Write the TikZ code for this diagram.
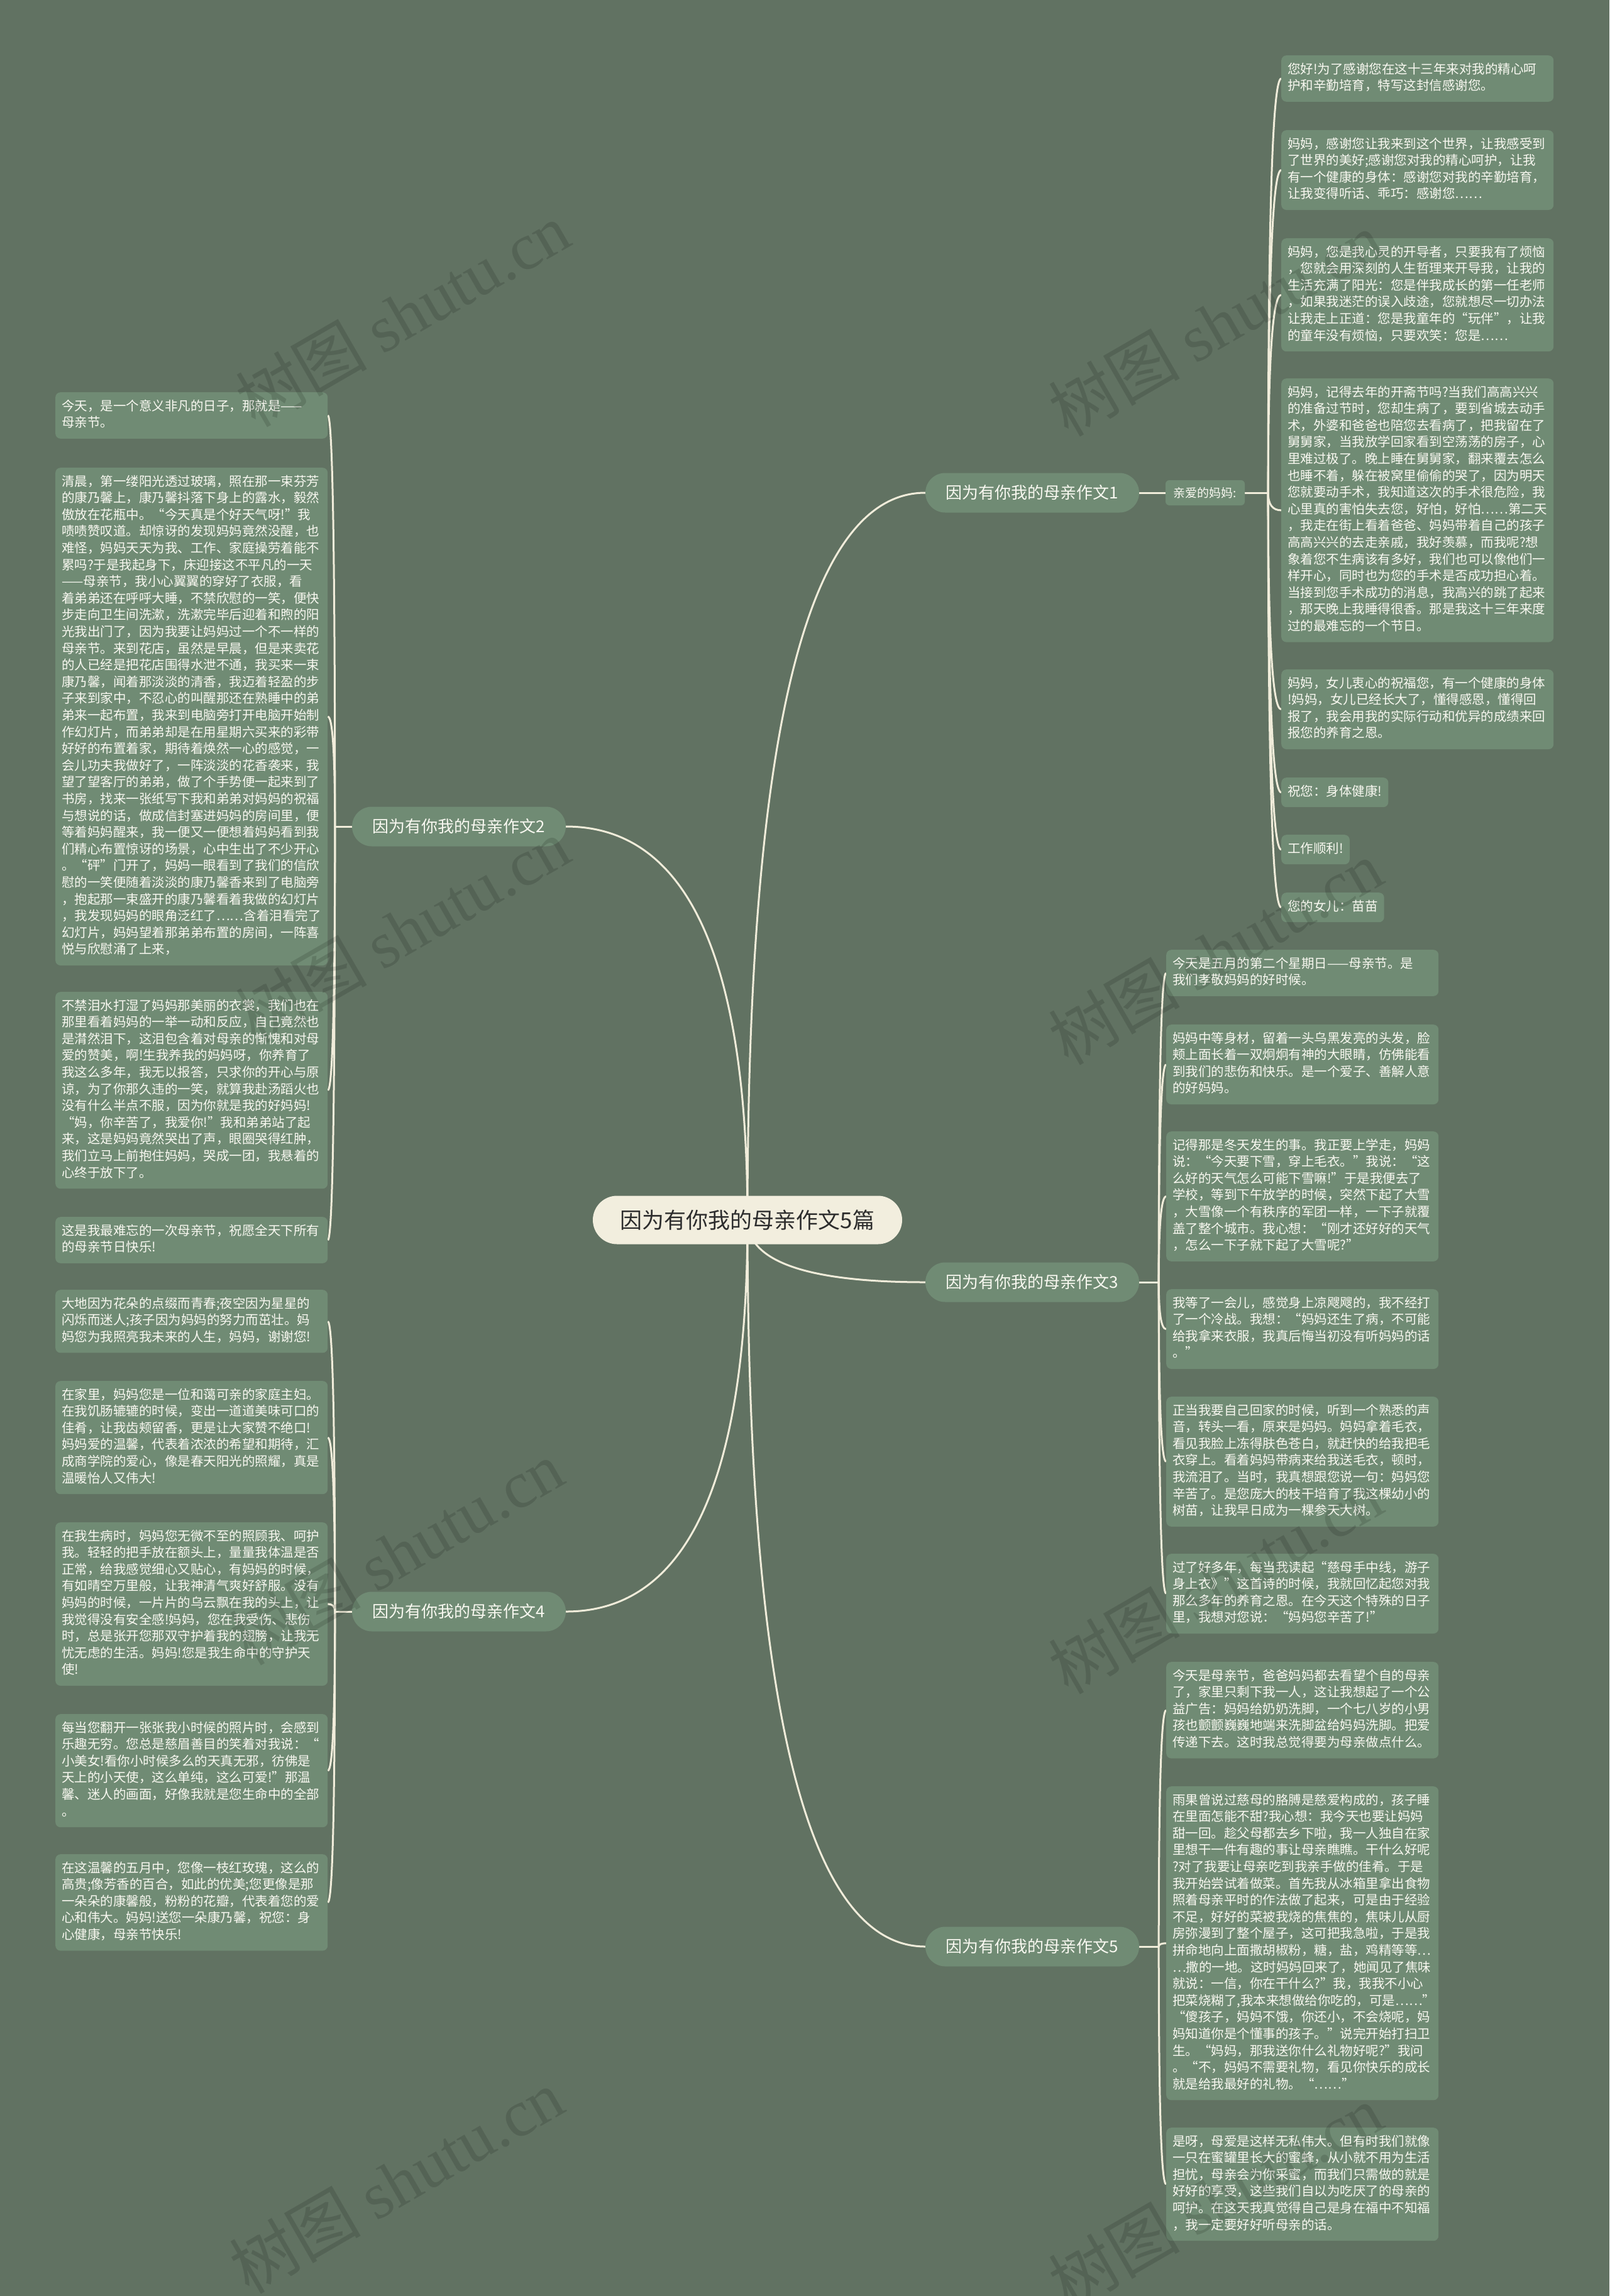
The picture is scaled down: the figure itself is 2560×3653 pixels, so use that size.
\documentclass[tikz,border=0pt]{standalone}
\usepackage{fontspec}
\setmainfont{Noto Sans CJK SC}
\newfontfamily\wmserif{Liberation Serif}
\usetikzlibrary{calc,backgrounds}
\definecolor{bgc}{RGB}{97,114,98}
\definecolor{leafc}{RGB}{112,139,116}
\definecolor{leaft}{RGB}{248,248,240}
\definecolor{creamc}{RGB}{242,238,222}
\definecolor{linec}{RGB}{240,236,218}
\definecolor{darkt}{RGB}{45,45,45}
\newcommand\leaffont{\fontsize{20.5pt}{26.6pt}\selectfont}
\newcommand\linkR[2]{\draw[conn] (#1) .. controls ($(#1)!0.6667!(#1 |- #2.west)$) and ($(#2.west)!0.6667!(#1 |- #2.west)$) .. (#2.west);}
\newcommand\linkL[2]{\draw[conn] (#1) .. controls ($(#1)!0.6667!(#1 |- #2.east)$) and ($(#2.east)!0.6667!(#1 |- #2.east)$) .. (#2.east);}
\tikzset{
  leaf/.style={fill=leafc, rounded corners=8pt, text=leaft, align=left, text width=413pt,
    inner xsep=10pt, inner ysep=10.2pt, anchor=north west, font=\leaffont},
  sleaf/.style={fill=leafc, rounded corners=8pt, text=leaft, align=left,
    inner xsep=10pt, inner ysep=10.2pt, anchor=north west, font=\leaffont},
  branch/.style={fill=leafc, rounded corners=31.5pt, text=leaft, minimum width=340pt,
    minimum height=63pt, inner sep=0pt, font=\fontsize{26pt}{32pt}\selectfont},
  centre/.style={fill=creamc, rounded corners=38.5pt, text=darkt, minimum width=492pt,
    minimum height=77pt, inner sep=0pt, font=\fontsize{35pt}{42pt}\selectfont},
  small/.style={fill=leafc, rounded corners=6pt, text=leaft, minimum width=126pt,
    minimum height=40pt, inner sep=0pt, font=\fontsize{19pt}{24pt}\selectfont},
  conn/.style={draw=linec, line width=3pt},
  wm/.style={text=black, opacity=0.13, font=\fontsize{105pt}{110pt}\selectfont, rotate=30}
}
\begin{document}
\begin{tikzpicture}[x=1pt,y=-1pt]
\useasboundingbox (0,0) rectangle (2560,3653);

\node[centre] (c) at (1189,1941) {因为有你我的母亲作文5篇};
\node[branch] (b1) at (1642,784) {因为有你我的母亲作文1};
\node[branch] (b2) at (730,1315) {因为有你我的母亲作文2};
\node[branch] (b3) at (1642,2040) {因为有你我的母亲作文3};
\node[branch] (b4) at (730,2564) {因为有你我的母亲作文4};
\node[branch] (b5) at (1642,3097) {因为有你我的母亲作文5};
\node[small] (q) at (1917,784) {亲爱的妈妈:};

% sector 1
\node[leaf] (A1) at (2038,88) {\strut 您好!为了感谢您在这十三年来对我的精心呵\\护和辛勤培育，特写这封信感谢您。\strut};
\node[leaf] (A2) at (2038,207) {\strut 妈妈，感谢您让我来到这个世界，让我感受到\\了世界的美好;感谢您对我的精心呵护，让我\\有一个健康的身体：感谢您对我的辛勤培育，\\让我变得听话、乖巧：感谢您……\strut};
\node[leaf] (A3) at (2038,379) {\strut 妈妈，您是我心灵的开导者，只要我有了烦恼\\，您就会用深刻的人生哲理来开导我，让我的\\生活充满了阳光：您是伴我成长的第一任老师\\，如果我迷茫的误入歧途，您就想尽一切办法\\让我走上正道：您是我童年的“玩伴”，让我\\的童年没有烦恼，只要欢笑：您是……\strut};
\node[leaf] (A4) at (2038,602) {\strut 妈妈，记得去年的开斋节吗?当我们高高兴兴\\的准备过节时，您却生病了，要到省城去动手\\术，外婆和爸爸也陪您去看病了，把我留在了\\舅舅家，当我放学回家看到空荡荡的房子，心\\里难过极了。晚上睡在舅舅家，翻来覆去怎么\\也睡不着，躲在被窝里偷偷的哭了，因为明天\\您就要动手术，我知道这次的手术很危险，我\\心里真的害怕失去您，好怕，好怕……第二天\\，我走在街上看着爸爸、妈妈带着自己的孩子\\高高兴兴的去走亲戚，我好羡慕，而我呢?想\\象着您不生病该有多好，我们也可以像他们一\\样开心，同时也为您的手术是否成功担心着。\\当接到您手术成功的消息，我高兴的跳了起来\\，那天晚上我睡得很香。那是我这十三年来度\\过的最难忘的一个节日。\strut};
\node[leaf] (A5) at (2038,1065) {\strut 妈妈，女儿衷心的祝福您，有一个健康的身体\\!妈妈，女儿已经长大了，懂得感恩，懂得回\\报了，我会用我的实际行动和优异的成绩来回\\报您的养育之恩。\strut};
\node[sleaf] (A6) at (2038,1237) {\strut 祝您：身体健康!\strut};
\node[sleaf] (A7) at (2038,1328) {\strut 工作顺利!\strut};
\node[sleaf] (A8) at (2038,1420) {\strut 您的女儿：苗苗\strut};

% sector 2
\node[leaf] (B1) at (88,624) {\strut 今天，是一个意义非凡的日子，那就是——\\母亲节。\strut};
\node[leaf] (B2) at (88,744) {\strut 清晨，第一缕阳光透过玻璃，照在那一束芬芳\\的康乃馨上，康乃馨抖落下身上的露水，毅然\\傲放在花瓶中。“今天真是个好天气呀!”我\\啧啧赞叹道。却惊讶的发现妈妈竟然没醒，也\\难怪，妈妈天天为我、工作、家庭操劳着能不\\累吗?于是我起身下，床迎接这不平凡的一天\\——母亲节，我小心翼翼的穿好了衣服，看\\着弟弟还在呼呼大睡，不禁欣慰的一笑，便快\\步走向卫生间洗漱，洗漱完毕后迎着和煦的阳\\光我出门了，因为我要让妈妈过一个不一样的\\母亲节。来到花店，虽然是早晨，但是来卖花\\的人已经是把花店围得水泄不通，我买来一束\\康乃馨，闻着那淡淡的清香，我迈着轻盈的步\\子来到家中，不忍心的叫醒那还在熟睡中的弟\\弟来一起布置，我来到电脑旁打开电脑开始制\\作幻灯片，而弟弟却是在用星期六买来的彩带\\好好的布置着家，期待着焕然一心的感觉，一\\会儿功夫我做好了，一阵淡淡的花香袭来，我\\望了望客厅的弟弟，做了个手势便一起来到了\\书房，找来一张纸写下我和弟弟对妈妈的祝福\\与想说的话，做成信封塞进妈妈的房间里，便\\等着妈妈醒来，我一便又一便想着妈妈看到我\\们精心布置惊讶的场景，心中生出了不少开心\\。“砰”门开了，妈妈一眼看到了我们的信欣\\慰的一笑便随着淡淡的康乃馨香来到了电脑旁\\，抱起那一束盛开的康乃馨看着我做的幻灯片\\，我发现妈妈的眼角泛红了……含着泪看完了\\幻灯片，妈妈望着那弟弟布置的房间，一阵喜\\悦与欣慰涌了上来，\strut};
\node[leaf] (B3) at (88,1578) {\strut 不禁泪水打湿了妈妈那美丽的衣裳，我们也在\\那里看着妈妈的一举一动和反应，自己竟然也\\是潸然泪下，这泪包含着对母亲的惭愧和对母\\爱的赞美，啊!生我养我的妈妈呀，你养育了\\我这么多年，我无以报答，只求你的开心与原\\谅，为了你那久违的一笑，就算我赴汤蹈火也\\没有什么半点不服，因为你就是我的好妈妈!\\“妈，你辛苦了，我爱你!”我和弟弟站了起\\来，这是妈妈竟然哭出了声，眼圈哭得红肿，\\我们立马上前抱住妈妈，哭成一团，我悬着的\\心终于放下了。\strut};
\node[leaf] (B4) at (88,1936) {\strut 这是我最难忘的一次母亲节，祝愿全天下所有\\的母亲节日快乐!\strut};

% sector 3
\node[leaf] (D1) at (1855,1511) {\strut 今天是五月的第二个星期日——母亲节。是\\我们孝敬妈妈的好时候。\strut};
\node[leaf] (D2) at (1855,1630) {\strut 妈妈中等身材，留着一头乌黑发亮的头发，脸\\颊上面长着一双炯炯有神的大眼睛，仿佛能看\\到我们的悲伤和快乐。是一个爱子、善解人意\\的好妈妈。\strut};
\node[leaf] (D3) at (1855,1800) {\strut 记得那是冬天发生的事。我正要上学走，妈妈\\说：“今天要下雪，穿上毛衣。”我说：“这\\么好的天气怎么可能下雪嘛!”于是我便去了\\学校，等到下午放学的时候，突然下起了大雪\\，大雪像一个有秩序的军团一样，一下子就覆\\盖了整个城市。我心想：“刚才还好好的天气\\，怎么一下子就下起了大雪呢?”\strut};
\node[leaf] (D4) at (1855,2051) {\strut 我等了一会儿，感觉身上凉飕飕的，我不经打\\了一个冷战。我想：“妈妈还生了病，不可能\\给我拿来衣服，我真后悔当初没有听妈妈的话\\。”\strut};
\node[leaf] (D5) at (1855,2222) {\strut 正当我要自己回家的时候，听到一个熟悉的声\\音，转头一看，原来是妈妈。妈妈拿着毛衣，\\看见我脸上冻得肤色苍白，就赶快的给我把毛\\衣穿上。看着妈妈带病来给我送毛衣，顿时，\\我流泪了。当时，我真想跟您说一句：妈妈您\\辛苦了。是您庞大的枝干培育了我这棵幼小的\\树苗，让我早日成为一棵参天大树。\strut};
\node[leaf] (D6) at (1855,2472) {\strut 过了好多年，每当我读起“慈母手中线，游子\\身上衣》”这首诗的时候，我就回忆起您对我\\那么多年的养育之恩。在今天这个特殊的日子\\里，我想对您说：“妈妈您辛苦了!”\strut};

% sector 4
\node[leaf] (C1) at (88,2052) {\strut 大地因为花朵的点缀而青春;夜空因为星星的\\闪烁而迷人;孩子因为妈妈的努力而茁壮。妈\\妈您为我照亮我未来的人生，妈妈，谢谢您!\strut};
\node[leaf] (C2) at (88,2197) {\strut 在家里，妈妈您是一位和蔼可亲的家庭主妇。\\在我饥肠辘辘的时候，变出一道道美味可口的\\佳肴，让我齿颊留香，更是让大家赞不绝口!\\妈妈爱的温馨，代表着浓浓的希望和期待，汇\\成商学院的爱心，像是春天阳光的照耀，真是\\温暖怡人又伟大!\strut};
\node[leaf] (C3) at (88,2422) {\strut 在我生病时，妈妈您无微不至的照顾我、呵护\\我。轻轻的把手放在额头上，量量我体温是否\\正常，给我感觉细心又贴心，有妈妈的时候，\\有如晴空万里般，让我神清气爽好舒服。没有\\妈妈的时候，一片片的乌云飘在我的头上，让\\我觉得没有安全感!妈妈，您在我受伤、悲伤\\时，总是张开您那双守护着我的翅膀，让我无\\忧无虑的生活。妈妈!您是我生命中的守护天\\使!\strut};
\node[leaf] (C4) at (88,2727) {\strut 每当您翻开一张张我小时候的照片时，会感到\\乐趣无穷。您总是慈眉善目的笑着对我说：“\\小美女!看你小时候多么的天真无邪，彷佛是\\天上的小天使，这么单纯，这么可爱!”那温\\馨、迷人的画面，好像我就是您生命中的全部\\。\strut};
\node[leaf] (C5) at (88,2950) {\strut 在这温馨的五月中，您像一枝红玫瑰，这么的\\高贵;像芳香的百合，如此的优美;您更像是那\\一朵朵的康馨般，粉粉的花瓣，代表着您的爱\\心和伟大。妈妈!送您一朵康乃馨，祝您：身\\心健康，母亲节快乐!\strut};

% sector 5
\node[leaf] (E1) at (1855,2644) {\strut 今天是母亲节，爸爸妈妈都去看望个自的母亲\\了，家里只剩下我一人，这让我想起了一个公\\益广告：妈妈给奶奶洗脚，一个七八岁的小男\\孩也颤颤巍巍地端来洗脚盆给妈妈洗脚。把爱\\传递下去。这时我总觉得要为母亲做点什么。\strut};
\node[leaf] (E2) at (1855,2842) {\strut 雨果曾说过慈母的胳膊是慈爱构成的，孩子睡\\在里面怎能不甜?我心想：我今天也要让妈妈\\甜一回。趁父母都去乡下啦，我一人独自在家\\里想干一件有趣的事让母亲瞧瞧。干什么好呢\\?对了我要让母亲吃到我亲手做的佳肴。于是\\我开始尝试着做菜。首先我从冰箱里拿出食物\\照着母亲平时的作法做了起来，可是由于经验\\不足，好好的菜被我烧的焦焦的，焦味儿从厨\\房弥漫到了整个屋子，这可把我急啦，于是我\\拼命地向上面撒胡椒粉，糖，盐，鸡精等等…\\…撒的一地。这时妈妈回来了，她闻见了焦味\\就说：一信，你在干什么?”我，我我不小心\\把菜烧糊了,我本来想做给你吃的，可是……”\\“傻孩子，妈妈不饿，你还小，不会烧呢，妈\\妈知道你是个懂事的孩子。”说完开始打扫卫\\生。“妈妈，那我送你什么礼物好呢?”我问\\。“不，妈妈不需要礼物，看见你快乐的成长\\就是给我最好的礼物。“……”\strut};
\node[leaf] (E3) at (1855,3385) {\strut 是呀，母爱是这样无私伟大。但有时我们就像\\一只在蜜罐里长大的蜜蜂，从小就不用为生活\\担忧，母亲会为你采蜜，而我们只需做的就是\\好好的享受，这些我们自以为吃厌了的母亲的\\呵护。在这天我真觉得自己是身在福中不知福\\，我一定要好好听母亲的话。\strut};

\coordinate (j1) at ($(q.east)+(37,0)$);
\coordinate (j3) at ($(b3.east)+(31,0)$);
\coordinate (j5) at ($(b5.east)+(31,0)$);
\coordinate (j2) at ($(b2.west)+(-27,0)$);
\coordinate (j4) at ($(b4.west)+(-27,0)$);

\begin{scope}[on background layer]
\fill[bgc] (0,0) rectangle (2560,3653);
\foreach \b in {b1,b3,b5} {\linkR{c.center}{\b}}
\foreach \b in {b2,b4} {\linkL{c.center}{\b}}
\draw[conn] (b1.east) -- (q.west);
\draw[conn] (q.east) -- (j1);
\draw[conn] (b3.east) -- (j3);
\draw[conn] (b5.east) -- (j5);
\draw[conn] (b2.west) -- (j2);
\draw[conn] (b4.west) -- (j4);
\foreach \l in {A1,A2,A3,A4,A5,A6,A7,A8} {\linkR{j1}{\l}}
\foreach \l in {D1,D2,D3,D4,D5,D6} {\linkR{j3}{\l}}
\foreach \l in {E1,E2,E3} {\linkR{j5}{\l}}
\foreach \l in {B1,B2,B3,B4} {\linkL{j2}{\l}}
\foreach \l in {C1,C2,C3,C4,C5} {\linkL{j4}{\l}}
\end{scope}

\node[wm] (w1) at (640,500) {树图 {\wmserif shutu.cn}};
\node[wm] (w2) at (1933,515) {树图 {\wmserif shutu.cn}};
\node[wm] (w3) at (640,1480) {树图 {\wmserif shutu.cn}};
\node[wm] (w4) at (1933,1515) {树图 {\wmserif shutu.cn}};
\node[wm] (w5) at (630,2470) {树图 {\wmserif shutu.cn}};
\node[wm] (w6) at (1933,2516) {树图 {\wmserif shutu.cn}};
\node[wm] (w7) at (630,3470) {树图 {\wmserif shutu.cn}};
\node[wm] (w8) at (1933,3495) {树图 {\wmserif shutu.cn}};
\end{tikzpicture}
\end{document}
